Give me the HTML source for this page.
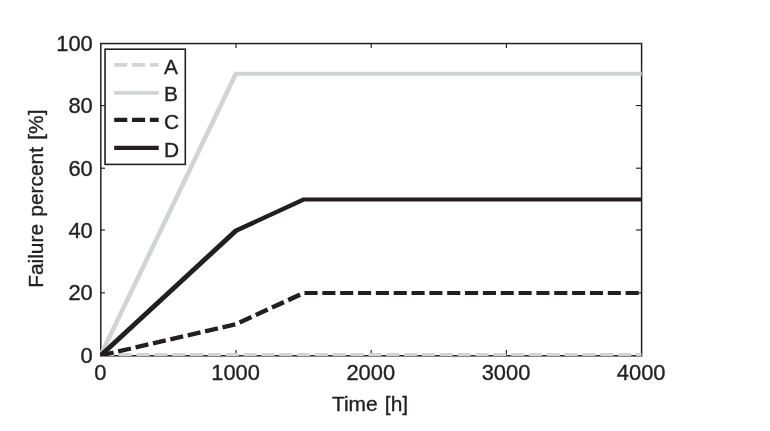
<!DOCTYPE html>
<html><head><meta charset="utf-8"><title>Failure percent vs time</title>
<style>
html,body{margin:0;padding:0;background:#ffffff;}
body{width:770px;height:431px;overflow:hidden;font-family:"Liberation Sans",sans-serif;}
#fig{position:absolute;left:0;top:0;width:770px;height:431px;will-change:transform;transform:translateZ(0);}
svg{display:block;}
text{-webkit-font-smoothing:antialiased;}
</style></head><body>
<div id="fig">
<svg width="770" height="431" viewBox="0 0 770 431">
<rect x="0" y="0" width="770" height="431" fill="#ffffff"/>
<g stroke="#231f20" stroke-width="1.5" fill="none">
<rect x="100.8" y="43.55" width="540.80" height="312.25"/>
</g>
<g stroke="#231f20" stroke-width="1.15" fill="none">
<line x1="236.00" y1="355.4" x2="236.00" y2="349.90"/>
<line x1="236.00" y1="43.55" x2="236.00" y2="47.95"/>
<line x1="371.20" y1="355.4" x2="371.20" y2="349.90"/>
<line x1="371.20" y1="43.55" x2="371.20" y2="47.95"/>
<line x1="506.40" y1="355.4" x2="506.40" y2="349.90"/>
<line x1="506.40" y1="43.55" x2="506.40" y2="47.95"/>
<line x1="100.8" y1="292.85" x2="105.00" y2="292.85"/>
<line x1="641.6" y1="292.85" x2="635.90" y2="292.85"/>
<line x1="100.8" y1="230.00" x2="105.00" y2="230.00"/>
<line x1="641.6" y1="230.00" x2="635.90" y2="230.00"/>
<line x1="100.8" y1="168.20" x2="105.00" y2="168.20"/>
<line x1="641.6" y1="168.20" x2="635.90" y2="168.20"/>
<line x1="100.8" y1="105.55" x2="105.00" y2="105.55"/>
<line x1="641.6" y1="105.55" x2="635.90" y2="105.55"/>
</g>
<defs><clipPath id="c"><rect x="99.89999999999999" y="40.55" width="541.80" height="315.40"/></clipPath></defs>
<g clip-path="url(#c)" fill="none" stroke-linejoin="miter" stroke-miterlimit="10">
<polyline points="100.80,354.50 641.60,354.50" stroke="#d1d3d4" stroke-width="3.0" stroke-dasharray="13.1 4.74"/>
<g transform="scale(1.24,1)"><polyline points="81.371,354.90 190.242,73.75 518.226,73.75" stroke="#d1d3d4" stroke-width="3.8"/></g>
<line x1="100.80" y1="355.40" x2="236.00" y2="324.21" stroke="#231f20" stroke-width="4.24" stroke-dasharray="13.1 4.74" stroke-dashoffset="0.00"/>
<line x1="236.00" y1="324.21" x2="303.60" y2="293.03" stroke="#231f20" stroke-width="4.45" stroke-dasharray="13.1 4.74" stroke-dashoffset="13.87"/>
<line x1="303.60" y1="293.03" x2="641.60" y2="293.03" stroke="#231f20" stroke-width="4.15" stroke-dasharray="13.1 4.74" stroke-dashoffset="16.96"/>
<g transform="scale(1.36,1)"><polyline points="74.118,355.40 173.529,230.66 223.235,199.47 471.765,199.47" stroke="#231f20" stroke-width="4.15"/></g>
</g>
<rect x="105.05" y="49.2" width="80.25" height="115.20" fill="#ffffff" stroke="#231f20" stroke-width="1.6"/>
<line x1="114.2" y1="64.9" x2="158.7" y2="64.9" stroke="#d1d3d4" stroke-width="3.8" stroke-dasharray="13.1 4.74"/>
<line x1="114.2" y1="92.8" x2="158.7" y2="92.8" stroke="#d1d3d4" stroke-width="3.8"/>
<line x1="114.2" y1="119.9" x2="158.7" y2="119.9" stroke="#231f20" stroke-width="4.15" stroke-dasharray="13.1 4.74"/>
<line x1="114.2" y1="147.9" x2="158.7" y2="147.9" stroke="#231f20" stroke-width="4.15"/>
<g font-family="Liberation Sans, sans-serif" fill="#231f20" stroke="#231f20" stroke-width="0.35" stroke-linejoin="round">
<g font-size="21.9">
<text x="164.1" y="73.50" font-size="20.9">A</text>
<text x="164.1" y="101.40" font-size="20.9">B</text>
<text x="164.1" y="128.50" font-size="20.9">C</text>
<text x="164.1" y="156.50" font-size="20.9">D</text>
<text x="100.40" y="379.6" text-anchor="middle">0</text>
<text x="235.60" y="379.6" text-anchor="middle">1000</text>
<text x="370.80" y="379.6" text-anchor="middle">2000</text>
<text x="506.00" y="379.6" text-anchor="middle">3000</text>
<text x="641.20" y="379.6" text-anchor="middle">4000</text>
<text x="92.8" y="362.85" text-anchor="end">0</text>
<text x="92.8" y="300.48" text-anchor="end">20</text>
<text x="92.8" y="238.11" text-anchor="end">40</text>
<text x="92.8" y="175.74" text-anchor="end">60</text>
<text x="92.8" y="113.37" text-anchor="end">80</text>
<text x="92.8" y="51.00" text-anchor="end">100</text>
</g>
<g font-size="20.9" word-spacing="1.5">
<text x="370.0" y="411.4" text-anchor="middle">Time [h]</text>
<text transform="translate(43.4,198.7) rotate(-90)" text-anchor="middle">Failure percent [%]</text>
</g></g>
</svg>
</div>
</body></html>
